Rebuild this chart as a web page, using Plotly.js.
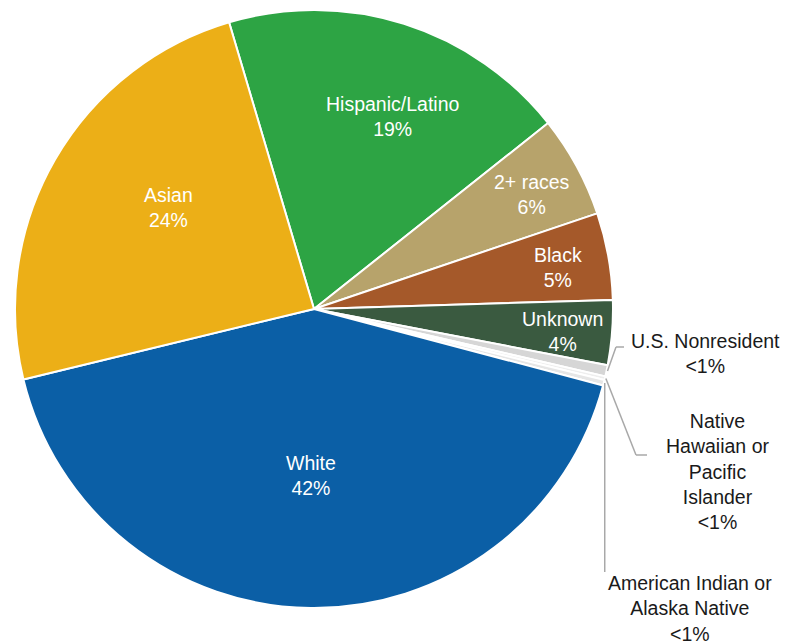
<!DOCTYPE html>
<html><head><meta charset="utf-8">
<script src="https://cdn.plot.ly/plotly-3.0.1.min.js"></script>
<style>html,body{margin:0;padding:0;background:#fff}#chart{width:800px;height:644px}</style>
</head><body><div id="chart"></div>
<script>
// ---- data ----
const categories = ["Hispanic/Latino","2+ races","Black","Unknown","U.S. Nonresident","Native Hawaiian or Pacific Islander","American Indian or Alaska Native","White","Asian"];
const values = [18.9, 5.5, 4.7, 3.5, 0.6, 0.2, 0.3, 42.1, 24.2];
const shortNames = ["Hispanic/Latino","2+ races","Black","Unknown","U.S. Nonresident","Native<br>Hawaiian or<br>Pacific<br>Islander","American Indian or<br>Alaska Native","White","Asian"];
const sliceColors = ["#2da444","#b7a36b","#a5592a","#3a5a40","#d6d6d6","#eeeeee","#e6e6e6","#0b5fa6","#ecaf17"];

// ---- layout / style constants ----
const W = 800, H = 644;
const CX = 314, CY = 309, R = 299;
const ROT = -16.5;
const FONT = "Liberation Sans, Arial, Helvetica, sans-serif";

// label centres (pixels) for slice labels
const labelCentre = {
  0: [392, 117], 1: [532, 194], 2: [558, 267], 3: [562, 331],
  7: [311, 475], 8: [168, 208],
  4: [705, 353], 5: [717, 471], 6: [690, 608]
};

const total = values.reduce((a,b)=>a+b,0);
const pctText = values.map(v => v < 1 ? "&lt;1%" : Math.round(v) + "%");
const isSmall = values.map(v => v < 1);

// slice mid-angle (deg clockwise from 12 o'clock)
let cum = 0;
const midAngle = values.map(v => { const a = ROT + 360*(cum + v/2)/total; cum += v; return a; });
function edgePt(i, extra) {
  const a = midAngle[i]*Math.PI/180;
  return [CX + (R+extra)*Math.sin(a), CY - (R+extra)*Math.cos(a)];
}
const px = x => x / W, py = y => 1 - y / H;

// leader-line paths for small slices
const leader = {
  4: p => [p, [616,347], [624,347]],
  5: p => [p, [636,455], [647,455]],
  6: p => [p, [p[0],572]]
};

const shapes = [], annotations = [];
categories.forEach((c, i) => {
  const [lx, ly] = labelCentre[i];
  annotations.push({xref:"paper", yref:"paper", x: px(lx), y: py(ly),
    xanchor:"center", yanchor:"middle", showarrow:false,
    text: shortNames[i] + "<br>" + pctText[i],
    font:{family:FONT, size:19.5, color: isSmall[i] ? "#1a1a1a" : "#ffffff"}, align:"center"});
  if (isSmall[i]) {
    const pts = leader[i](edgePt(i, 1));
    for (let j = 0; j < pts.length-1; j++) {
      shapes.push({type:"line", xref:"paper", yref:"paper",
        x0: px(pts[j][0]), y0: py(pts[j][1]), x1: px(pts[j+1][0]), y1: py(pts[j+1][1]),
        line:{color:"#a8a8a8", width:1.5}});
    }
  }
});

const trace = {
  type: "pie",
  labels: categories,
  values: values,
  sort: false,
  direction: "clockwise",
  rotation: ROT,
  textinfo: "none",
  marker: {colors: sliceColors, line: {color: "#ffffff", width: 2}},
  hoverinfo: "label+percent",
  domain: {x: [px(CX-R), px(CX+R)], y: [py(CY+R), py(CY-R)]},
  automargin: false
};

const layout = {
  width: W, height: H,
  margin: {l:0, r:0, t:0, b:0},
  showlegend: false,
  paper_bgcolor: "#ffffff",
  shapes: shapes,
  annotations: annotations,
  font: {family: FONT}
};

Plotly.newPlot("chart", [trace], layout, {displayModeBar:false, staticPlot:true});
</script>
</body></html>
